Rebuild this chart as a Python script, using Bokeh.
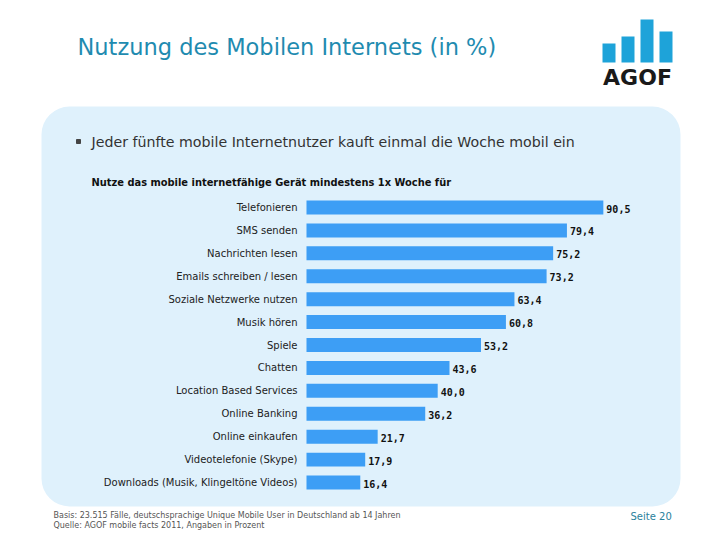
from bokeh.plotting import figure
from bokeh.models import Range1d, ColumnDataSource
from bokeh.embed import file_html
from bokeh.resources import INLINE
from bokeh.core.properties import value

# ---- data ----
categories = [
    "Telefonieren",
    "SMS senden",
    "Nachrichten lesen",
    "Emails schreiben / lesen",
    "Soziale Netzwerke nutzen",
    "Musik hören",
    "Spiele",
    "Chatten",
    "Location Based Services",
    "Online Banking",
    "Online einkaufen",
    "Videotelefonie (Skype)",
    "Downloads (Musik, Klingeltöne Videos)",
]
values = [90.5, 79.4, 75.2, 73.2, 63.4, 60.8, 53.2, 43.6, 40.0, 36.2, 21.7, 17.9, 16.4]

title_text = "Nutzung des Mobilen Internets (in %)"
bullet_text = "Jeder fünfte mobile Internetnutzer kauft einmal die Woche mobil ein"
subtitle_text = "Nutze das mobile internetfähige Gerät mindestens 1x Woche für"
footer_lines = [
    "Basis:  23.515 Fälle, deutschsprachige Unique Mobile User in Deutschland ab 14 Jahren",
    "Quelle: AGOF mobile facts 2011, Angaben in Prozent",
]
page_text = "Seite 20"

# ---- styles ----
BAR = "#3d9ef5"
BOX = "#dff1fc"
TEAL = "#1f8bb0"
FONT = value("DejaVu Sans")

W, H = 712, 532
p = figure(width=W, height=H, x_range=Range1d(0, W), y_range=Range1d(H, 0),
           toolbar_location=None, output_backend="svg", min_border=0,
           outline_line_color=None, background_fill_color="white",
           border_fill_color="white")
p.axis.visible = False
p.grid.visible = False

# scales for the bar chart
p.extra_x_ranges = {"val": Range1d(-93.29, 123.78)}
p.extra_y_ranges = {"rank": Range1d(14.180, -9.032)}

# rounded background panel
p.quad(left=41, right=680, top=106, bottom=506, fill_color=BOX,
       line_color=None, border_radius=28)

# title
p.text(x=[77], y=[46], text=[title_text], text_font=FONT, text_font_size="22.5px",
       text_color=TEAL, text_baseline="middle", text_align="left")

# logo
logo_left = [602, 621, 640, 659]
logo_top = [43, 36, 19, 31]
p.quad(left=logo_left, right=[l + 13 for l in logo_left], top=logo_top,
       bottom=62, fill_color="#1ea3d9", line_color=None)
p.text(x=[637], y=[77], text=["AGOF"], text_font=FONT, text_font_size="22px",
       text_font_style="bold", text_color="#1a1a1a", text_baseline="middle",
       text_align="center")

# bullet
p.scatter(x=[78], y=[141], marker="square", size=4, color="#444444")
p.text(x=[91], y=[141], text=[bullet_text], text_font=FONT, text_font_size="14.2px",
       text_color="#333333", text_baseline="middle")

# subtitle
p.text(x=[91], y=[182], text=[subtitle_text], text_font=FONT, text_font_size="9.9px",
       text_font_style="bold", text_color="#111111", text_baseline="middle")

# bars
src = ColumnDataSource(dict(
    rank=list(range(len(categories))),
    cat=categories,
    val=values,
    lbl=[f"{v:.1f}".replace(".", ",") for v in values],
))
p.hbar(y="rank", left=0, right="val", height=0.61, source=src, fill_color=BAR,
       line_color=None, x_range_name="val", y_range_name="rank")
p.text(x=0, y="rank", text="cat", source=src, x_offset=-9, text_align="right",
       text_baseline="middle", text_font=FONT, text_font_size="10px",
       text_color="#222222", x_range_name="val", y_range_name="rank")
p.text(x="val", y="rank", text="lbl", source=src, x_offset=3, y_offset=1,
       text_align="left", text_baseline="middle",
       text_font=value("DejaVu Sans Mono"), text_font_size="10px",
       text_font_style="bold", text_color="#111111",
       x_range_name="val", y_range_name="rank")

# footer
p.text(x=[53, 53], y=[515, 525], text=footer_lines, text_font=FONT,
       text_font_size="8px", text_color="#555555", text_baseline="middle")
p.text(x=[630], y=[516], text=[page_text], text_font=FONT, text_font_size="10px",
       text_color="#2a819c", text_baseline="middle")

open("out.html", "w").write(file_html(p, INLINE))
